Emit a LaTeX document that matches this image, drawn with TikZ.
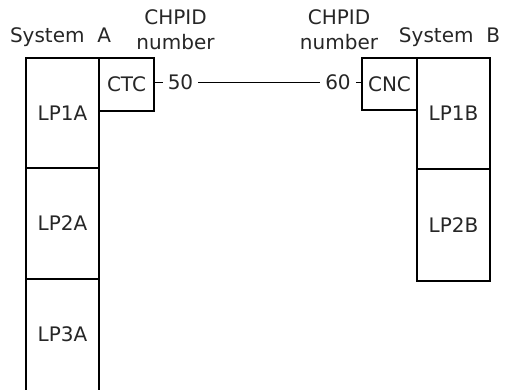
\documentclass[tikz,border=0pt]{standalone}
\usepackage{fontspec}
\setmainfont{DejaVu Sans}
\tikzset{
  part/.style={draw, line width=1.5pt, minimum width=73pt, inner sep=0pt, outer sep=0pt},
  chan/.style={draw, line width=1.5pt, minimum width=55pt, minimum height=53pt, inner sep=0pt, outer sep=0pt},
  link/.style={line width=0.8pt},
  label/.style={align=center, inner sep=0pt},
}
\begin{document}
\begin{tikzpicture}[x=1pt,y=-1pt,font=\fontsize{20}{25}\selectfont,text=black!85]
\useasboundingbox (0,0) rectangle (507,390);
\node[label] (sysA) at (60.5,37) {System~~A};
\node[label] (chpidA) at (175.5,29.5) {CHPID\\number};
\node[label] (chpidB) at (339,29.5) {CHPID\\number};
\node[label] (sysB) at (449.5,37) {System~~B};
\node[part, minimum height=110pt] (lp1a) at (62.5,113) {LP1A};
\node[part, minimum height=111pt] (lp2a) at (62.5,223.5) {LP2A};
\node[part, minimum height=111pt, draw=none] (lp3a) at (62.5,334.5) {LP3A};
\draw[line width=1.5pt] (lp3a.south west) -- (lp3a.north west) (lp3a.north east) -- (lp3a.south east);
\node[chan] (ctc) at (126.5,84.5) {CTC};
\node[chan, minimum height=52pt] (cnc) at (389.5,84) {CNC};
\node[part, minimum height=111pt] (lp1b) at (453.5,113.5) {LP1B};
\node[part, minimum height=112pt] (lp2b) at (453.5,225) {LP2B};
\node[inner sep=5pt] (ch50) at (180.5,82) {50};
\node[inner sep=5pt] (ch60) at (338,82) {60};
\draw[link] (ctc.east |- ch50.west) -- (ch50.west);
\draw[link] (ch50.east) -- (ch60.west);
\draw[link] (ch60.east) -- (cnc.west |- ch60.east);
\end{tikzpicture}
\end{document}
